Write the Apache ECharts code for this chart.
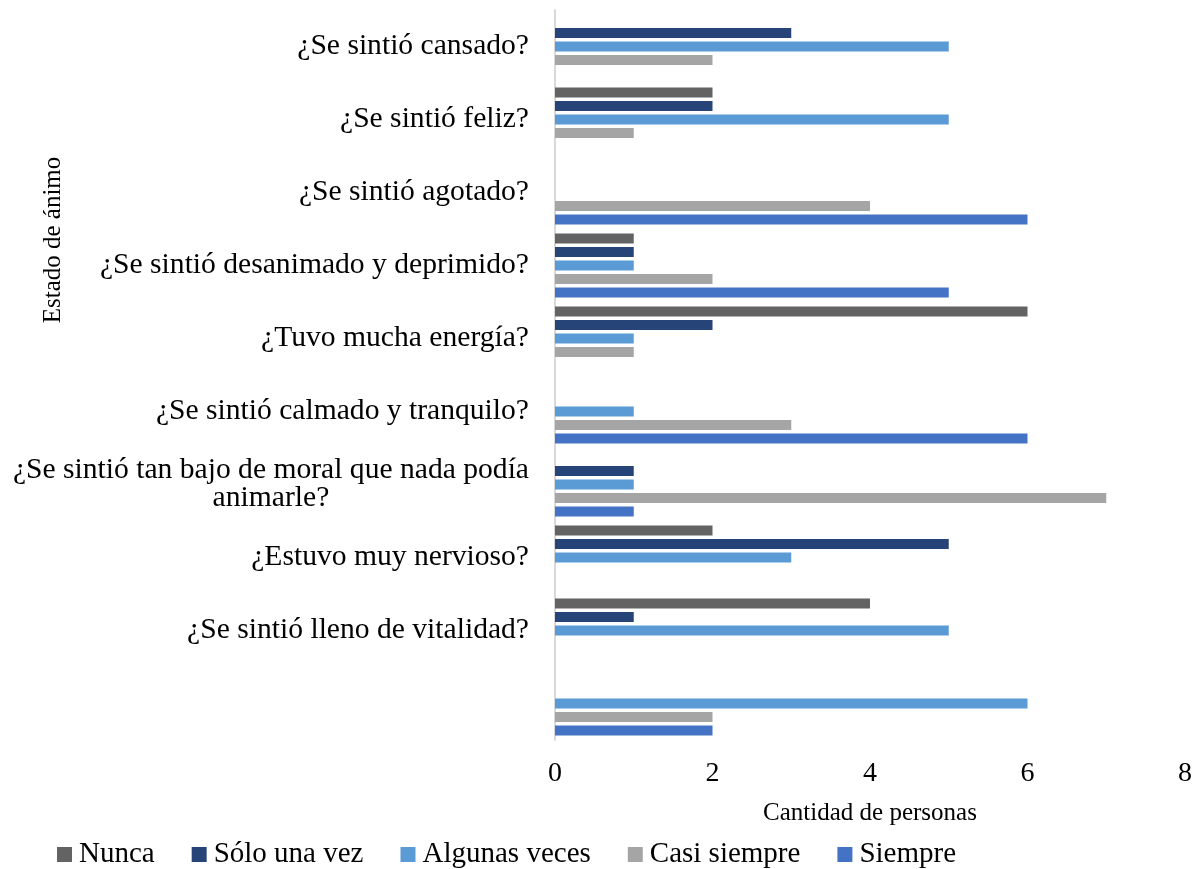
<!DOCTYPE html>
<html>
<head>
<meta charset="utf-8">
<script src="https://cdn.jsdelivr.net/npm/echarts@6/dist/echarts.min.js"></script>
<style>
  html, body { margin: 0; padding: 0; background: #fff; }
  #bar-chart { width: 1195px; height: 869px; }
</style>
</head>
<body>
<div id="bar-chart"></div>
<script>
const categories = [
  '¿Se sintió cansado?',
  '¿Se sintió feliz?',
  '¿Se sintió agotado?',
  '¿Se sintió desanimado y deprimido?',
  '¿Tuvo mucha energía?',
  '¿Se sintió calmado y tranquilo?',
  '¿Se sintió tan bajo de moral que nada podía\nanimarle?',
  '¿Estuvo muy nervioso?',
  '¿Se sintió lleno de vitalidad?',
  ''
];

const seriesNames = ['Nunca', 'Sólo una vez', 'Algunas veces', 'Casi siempre', 'Siempre'];

const nunca        = [0, 2, 0, 1, 6, 0, 0, 2, 4, 0];
const soloUnaVez   = [3, 2, 0, 1, 2, 0, 1, 5, 1, 0];
const algunasVeces = [5, 5, 0, 1, 1, 1, 1, 3, 5, 6];
const casiSiempre  = [2, 1, 4, 2, 1, 3, 7, 0, 0, 2];
const siempre      = [0, 0, 6, 5, 0, 6, 1, 0, 0, 2];

const xTicks = [0, 2, 4, 6, 8];

const colors = ['#636363', '#264478', '#5B9BD5', '#A5A5A5', '#4472C4'];
const serif = '"Liberation Serif", "Times New Roman", serif';

const chartDom = document.getElementById('bar-chart');
const barChart = echarts.init(chartDom, null, { renderer: 'canvas' });

const values = [nunca, soloUnaVez, algunasVeces, casiSiempre, siempre];

let option = {
  animation: false,
  color: colors,
  grid: {
    left: 555,
    right: 10,
    top: 10,
    bottom: 129,
    containLabel: false
  },
  legend: {
    top: 835,
    left: 52,
    itemWidth: 15,
    itemHeight: 15,
    itemGap: 37,
    icon: 'rect',
    textStyle: { fontFamily: serif, fontSize: 29, color: '#000', padding: [0, 0, 0, 2] },
    data: seriesNames
  },
  xAxis: {
    type: 'value',
    min: xTicks[0],
    max: xTicks[xTicks.length - 1],
    interval: 2,
    name: 'Cantidad de personas',
    nameLocation: 'middle',
    nameGap: 61,
    nameTextStyle: { fontFamily: serif, fontSize: 25, color: '#000' },
    axisLine: { show: false },
    axisTick: { show: false },
    splitLine: { show: false },
    axisLabel: { fontFamily: serif, fontSize: 28, color: '#000', margin: 20 }
  },
  yAxis: {
    type: 'category',
    inverse: true,
    data: categories,
    axisLine: { show: true, lineStyle: { color: '#d9d9d9', width: 2 } },
    axisTick: { show: false },
    axisLabel: {
      margin: 26,
      interval: 0,
      formatter: function (v) {
        if (!v) return '';
        return v.split('\n').map(s => '{c|' + s + '}').join('\n');
      },
      rich: {
        c: { align: 'center', fontFamily: serif, fontSize: 29.6, color: '#000', lineHeight: 28 }
      }
    }
  },
  graphic: [
    {
      type: 'text',
      x: 53,
      y: 240,
      rotation: Math.PI / 2,
      style: {
        text: 'Estado de ánimo',
        font: '25px ' + serif,
        fill: '#000',
        align: 'center',
        verticalAlign: 'middle'
      }
    }
  ],
  series: seriesNames.map((name, i) => ({
    name: name,
    type: 'bar',
    data: values[i],
    barWidth: 10,
    barGap: '35%',
    itemStyle: { color: colors[i] }
  }))
};

option && barChart.setOption(option);

window.addEventListener('resize', function () {
  barChart.resize();
});
</script>
</body>
</html>
